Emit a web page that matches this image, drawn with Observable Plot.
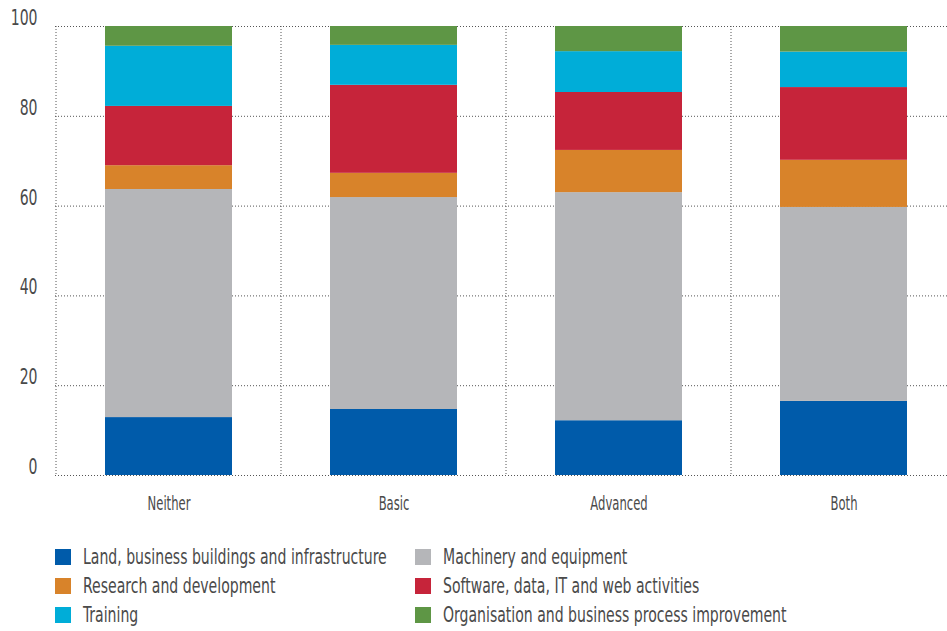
<!DOCTYPE html>
<html>
<head>
<meta charset="utf-8">
<script src="https://cdn.jsdelivr.net/npm/d3@7"></script>
<script src="https://cdn.jsdelivr.net/npm/@observablehq/plot@0.6"></script>
<style>
  html, body { margin: 0; padding: 0; background: #fff; overflow: hidden; }
  body { font-family: "DejaVu Sans Condensed", "Liberation Sans Narrow", sans-serif; }
  #legend {
    display: grid;
    grid-template-columns: 360px 360px;
    margin-left: 55px;
    padding-top: 12px;
  }
  .item { display: flex; align-items: center; height: 29px; font-size: 22px; color: #4a4a4a; white-space: nowrap; }
  .sw { width: 16px; height: 16px; margin-right: 12px; flex: none; }
  .lbl { display: inline-block; transform: scaleX(0.71); transform-origin: left center; }
</style>
</head>
<body>
<div id="chart"></div>
<div id="legend"></div>
<script>
const categories = ["Neither", "Basic", "Advanced", "Both"];
const seriesNames = [
  "Land, business buildings and infrastructure",
  "Machinery and equipment",
  "Research and development",
  "Software, data, IT and web activities",
  "Training",
  "Organisation and business process improvement"
];
const seriesColors = ["#005BAA", "#B5B6B9", "#D8832A", "#C6243A", "#00ADD8", "#5E9645"];
const land      = [12.9, 14.7, 12.2, 16.5];
const machinery = [50.8, 47.2, 50.8, 43.2];
const research  = [5.3, 5.4, 9.4, 10.5];
const software  = [13.2, 19.6, 12.9, 16.2];
const training  = [13.4, 8.9, 9.1, 7.9];
const organisation = [4.4, 4.2, 5.6, 5.7];
const yTicks = [0, 20, 40, 60, 80, 100];

const seriesValues = [land, machinery, research, software, training, organisation];
const data = [];
categories.forEach((c, i) => {
  seriesNames.forEach((s, j) => data.push({category: c, series: s, value: seriesValues[j][i]}));
});

const gridStyle = {stroke: "#555", strokeDasharray: "1,2", strokeWidth: 1};

function verticalGrid(index, scales, values, dims) {
  const x = scales.x;
  const bw = x.bandwidth ? x.bandwidth() : 0;
  const step = x(categories[1]) - x(categories[0]);
  const g = d3.create("svg:g");
  const bounds = categories.map(c => x(c) + bw / 2 - step / 2);
  bounds.push(x(categories[categories.length - 1]) + bw / 2 + step / 2);
  for (const b of bounds) {
    g.append("line")
      .attr("x1", b).attr("x2", b)
      .attr("y1", dims.marginTop).attr("y2", dims.height - dims.marginBottom)
      .attr("stroke", gridStyle.stroke)
      .attr("stroke-dasharray", gridStyle.strokeDasharray)
      .attr("stroke-width", 1);
  }
  return g.node();
}

const chart = Plot.plot({
  width: 947,
  height: 530,
  marginTop: 26,
  marginBottom: 55,
  marginLeft: 55,
  marginRight: -10,
  style: {fontFamily: '"DejaVu Sans Condensed", "Liberation Sans Narrow", sans-serif', background: "#fff"},
  x: {domain: categories, paddingInner: 0.437, paddingOuter: 0.2185, label: null},
  y: {domain: [0, 100], label: null},
  color: {domain: seriesNames, range: seriesColors},
  marks: [
    Plot.ruleY(yTicks, {y: d => d, ...gridStyle}),
    verticalGrid,
    Plot.barY(data, Plot.stackY({x: "category", y: "value", fill: "series", order: null})),
    Plot.axisY({ticks: yTicks, tickSize: 0, tickPadding: 18, dy: -8.5, fontSize: 22, fill: "#4a4a4a", label: null}),
    Plot.axisX({tickSize: 0, tickPadding: 21, fontSize: 19, fill: "#4a4a4a", label: null})
  ]
});

// condense the axis labels horizontally (the original uses a condensed face)
function condense(selector, s) {
  d3.select(chart).selectAll(selector).each(function () {
    const t = d3.select(this);
    let tr = t.attr("transform");
    if (!tr) {
      const x = +(t.attr("x") || 0), y = +(t.attr("y") || 0);
      t.attr("x", null).attr("y", null);
      tr = `translate(${x},${y})`;
    }
    t.attr("transform", `${tr} scale(${s},1)`);
  });
}
condense('g[aria-label="y-axis tick label"] text', 0.71);
condense('g[aria-label="x-axis tick label"] text', 0.68);

document.getElementById("chart").appendChild(chart);

const legend = document.getElementById("legend");
seriesNames.forEach((s, i) => {
  const item = document.createElement("div");
  item.className = "item";
  const sw = document.createElement("span");
  sw.className = "sw";
  sw.style.background = seriesColors[i];
  const t = document.createElement("span");
  t.className = "lbl";
  t.textContent = s;
  item.appendChild(sw);
  item.appendChild(t);
  legend.appendChild(item);
});
</script>
</body>
</html>
